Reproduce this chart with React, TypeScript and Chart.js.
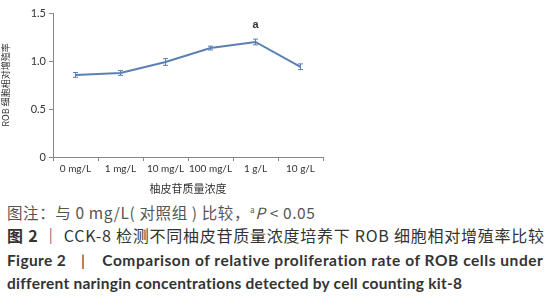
import React, { useEffect, useRef } from "react";
import { Chart, registerables } from "chart.js";

Chart.register(...registerables);

const categories = ["0 mg/L", "1 mg/L", "10 mg/L", "100 mg/L", "1 g/L", "10 g/L"];
const values = [0.855, 0.875, 0.99, 1.135, 1.198, 0.94];
const errors = [0.025, 0.025, 0.035, 0.02, 0.03, 0.03];
const marks = ["", "", "", "", "a", ""];
const yTicks = [0, 0.5, 1.0, 1.5];

const LINE = "#5a7fb3";

const errorBarPlugin = {
  id: "errorBars",
  afterDatasetsDraw(chart: any) {
    const ctx = chart.ctx;
    const x = chart.scales.x;
    const y = chart.scales.y;
    ctx.save();
    ctx.strokeStyle = LINE;
    ctx.lineWidth = 1;
    values.forEach((v, i) => {
      const px = x.getPixelForValue(i);
      const top = y.getPixelForValue(v + errors[i]);
      const bot = y.getPixelForValue(v - errors[i]);
      ctx.beginPath();
      ctx.moveTo(px, top);
      ctx.lineTo(px, bot);
      ctx.moveTo(px - 2.5, top);
      ctx.lineTo(px + 2.5, top);
      ctx.moveTo(px - 2.5, bot);
      ctx.lineTo(px + 2.5, bot);
      ctx.stroke();
      if (marks[i]) {
        ctx.fillStyle = "#333";
        ctx.font = "bold 11px 'Liberation Sans', Arial, sans-serif";
        ctx.textAlign = "center";
        ctx.textBaseline = "alphabetic";
        ctx.fillText(marks[i], px, top - 11);
      }
    });
    ctx.restore();
  },
};

export default function App() {
  const ref = useRef<HTMLCanvasElement>(null);
  useEffect(() => {
    if (!ref.current) return;
    const chart = new Chart(ref.current, {
      type: "line",
      data: {
        labels: categories,
        datasets: [
          {
            data: values,
            borderColor: LINE,
            borderWidth: 2,
            pointRadius: 0,
            tension: 0,
          },
        ],
      },
      options: {
        animation: false,
        responsive: false,
        maintainAspectRatio: false,
        layout: { padding: { left: 0, top: 13, right: 17, bottom: 0 } },
        plugins: { legend: { display: false }, tooltip: { enabled: false } },
        scales: {
          x: {
            type: "category",
            offset: true,
            grid: { drawOnChartArea: false, offset: true, color: "#888", tickLength: 4 },
            border: { color: "#888" },
            ticks: {
              color: "#333",
              font: { size: 10, family: "Lato, sans-serif" },
              maxRotation: 0,
              autoSkip: false,
              padding: 2,
            },
            title: {
              display: true,
              text: "柚皮苷质量浓度",
              color: "#333",
              font: { size: 11, family: "'Noto Sans CJK SC', sans-serif" },
              padding: { top: 0, bottom: 0 },
            },
            afterFit: (s: any) => {
              s.height = 38;
            },
          },
          y: {
            min: 0,
            max: 1.5,
            afterBuildTicks: (s: any) => {
              s.ticks = yTicks.map((v) => ({ value: v }));
            },
            grid: { drawOnChartArea: false, color: "#888", tickLength: 4 },
            border: { color: "#888" },
            ticks: {
              color: "#333",
              font: { size: 11, family: "Lato, sans-serif" },
              padding: 3,
              callback: (v: any) => (v === 0 ? "0" : Number(v).toFixed(1)),
            },
            title: {
              display: true,
              text: "ROB 细胞相对增殖率",
              color: "#333",
              font: { size: 9, family: "'Noto Sans CJK SC', sans-serif" },
              padding: { top: 0, bottom: 6 },
            },
            afterFit: (s: any) => {
              s.width = 53;
            },
          },
        },
      },
      plugins: [errorBarPlugin],
    });
    return () => chart.destroy();
  }, []);

  const cjk = "'Noto Sans CJK SC', sans-serif";
  const lat = "Lato, 'Noto Sans CJK SC', sans-serif";
  const line = (top: number): React.CSSProperties => ({
    position: "absolute",
    left: 7,
    top: top - 10,
    height: 20,
    lineHeight: "20px",
    whiteSpace: "nowrap",
  });
  return (
    <div style={{ position: "fixed", left: 0, top: 0, width: 557, height: 300, background: "#fff", overflow: "hidden" }}>
      <canvas ref={ref} width={340} height={195} style={{ position: "absolute", left: 0, top: 0, width: 340, height: 195 }} />
      <div style={{ ...line(212), fontFamily: cjk, fontSize: 15.5, letterSpacing: 0.6, color: "#555" }}>
        图注：与 0 mg/L( 对照组 ) 比较，<sup style={{ fontSize: 8, lineHeight: 0 }}>a</sup><i>P</i> &lt; 0.05
      </div>
      <div style={{ ...line(235), fontFamily: cjk, fontSize: 16, letterSpacing: 0.75, color: "#333" }}>
        <b>图 2</b> ｜ CCK-8 检测不同柚皮苷质量浓度培养下 ROB 细胞相对增殖率比较
      </div>
      <div style={{ ...line(260), fontFamily: lat, fontWeight: "bold", fontSize: 15.5, letterSpacing: 0.35, color: "#333" }}>
        Figure 2<span style={{ display: "inline-block", marginLeft: 15, marginRight: 17, fontWeight: "normal" }}>|</span>
        <span style={{ letterSpacing: 0.55 }}>Comparison of relative proliferation rate of ROB cells under</span>
      </div>
      <div style={{ ...line(283), fontFamily: lat, fontWeight: "bold", fontSize: 15.5, letterSpacing: 0.25, color: "#333" }}>
        different naringin concentrations detected by cell counting kit-8
      </div>
    </div>
  );
}
